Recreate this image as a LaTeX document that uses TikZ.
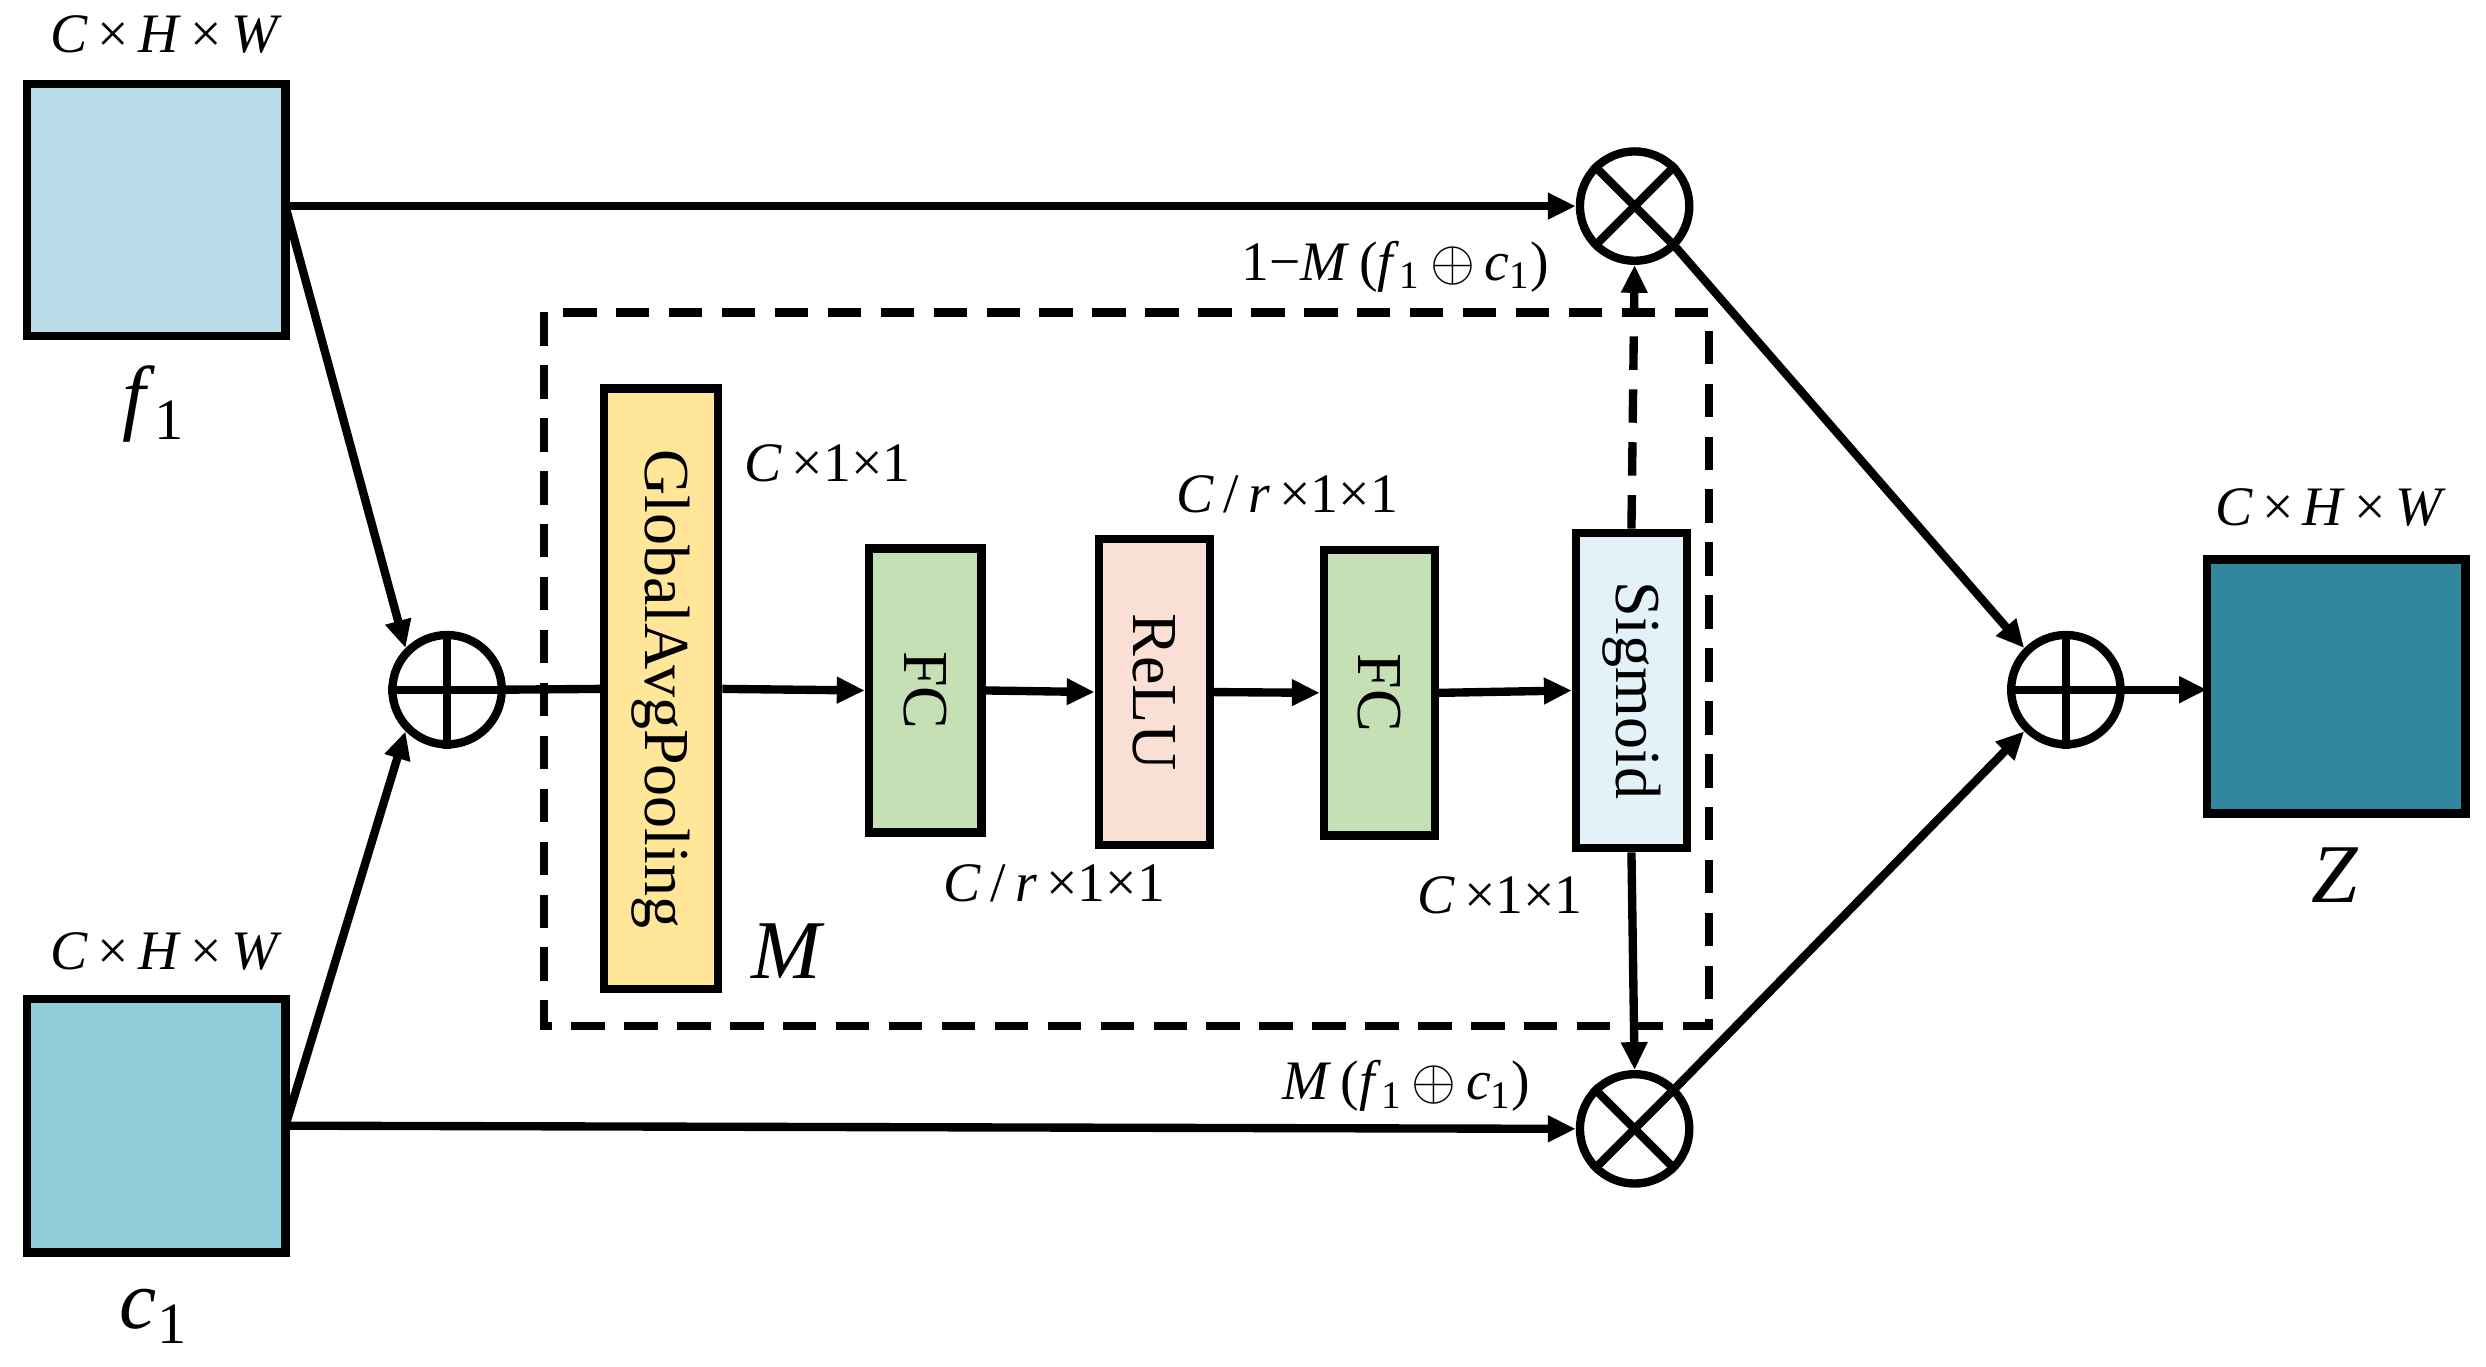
\documentclass[tikz,border=0pt]{standalone}
\usepackage{fontspec}
\setmainfont{Liberation Serif}
\usetikzlibrary{arrows.meta}
\begin{document}
\begin{tikzpicture}[x=0.02cm,y=-0.02cm,
  lw/.style={line width=3pt},
  arr/.style={lw,-{Triangle[length=10pt,width=9pt]}},
  box/.style={draw,lw,inner sep=0},
  circ/.style={draw,lw,circle,minimum size=1.38cm,inner sep=0},
  lab/.style={font=\fontsize{20}{24}\selectfont,inner sep=1pt},
  btxt/.style={font=\fontsize{23}{26}\selectfont,rotate=-90}]
\useasboundingbox (0,0) rectangle (1568,862);
\definecolor{cf}{HTML}{B8DDE8}\definecolor{cc}{HTML}{92CDDB}
\definecolor{cz}{HTML}{31859C}\definecolor{cy}{HTML}{FFE699}
\definecolor{cg}{HTML}{C5E0B4}\definecolor{cp}{HTML}{FAE0D4}
\definecolor{cs}{HTML}{E2F2F8}
\newcommand{\cx}[1]{\draw[lw] (#1.north)--(#1.south) (#1.west)--(#1.east);}
\newcommand{\ox}[1]{\draw[lw] (#1.north west)--(#1.south east) (#1.north east)--(#1.south west);}
% feature boxes
\draw[box,fill=cf] (17,53) rectangle (180,212); \coordinate (f1) at (180,130);
\draw[box,fill=cc] (17,630) rectangle (180,790); \coordinate (c1) at (180,710);
\draw[box,fill=cz] (1392,353) rectangle (1555,513); \coordinate (z) at (1392,435);
\node[lab] (t1) at (105,22) {\textit{C}\,×\,\textit{H}\,×\,\textit{W}};
\node[lab] (t2) at (105,600) {\textit{C}\,×\,\textit{H}\,×\,\textit{W}};
\node[lab] (t3) at (1470,320) {\textit{C}\,×\,\textit{H}\,×\,\textit{W}};
\node[lab,font=\fontsize{30}{34}\selectfont] (lf) at (97,255) {\textit{f}\textsubscript{1}};
\node[lab,font=\fontsize{30}{34}\selectfont] (lc) at (97,830) {\textit{c}\textsubscript{1}};
\node[lab,font=\fontsize{30}{34}\selectfont] (lz) at (1473,552) {\textit{Z}};
% circles
\node[circ] (p1) at (282,435) {}; \cx{p1}
\node[circ] (p2) at (1303,435) {}; \cx{p2}
\node[circ] (o1) at (1031,130) {}; \ox{o1}
\node[circ] (o2) at (1031,712) {}; \ox{o2}
% dashed block
\draw[lw,dashed,dash pattern=on 12pt off 7pt] (343,197) rectangle (1078,647);
\node[box,fill=cy,minimum width=1.44cm,minimum height=7.58cm] (gap) at (417,434.5) {};
\node[btxt] at (gap) {GlobalAvgPooling};
\node[box,fill=cg,minimum width=1.42cm,minimum height=3.58cm] (fc1) at (583.5,435.5) {};
\node[btxt] at (fc1) {FC};
\node[box,fill=cp,minimum width=1.4cm,minimum height=3.86cm] (relu) at (728,436.5) {};
\node[btxt] at (relu) {ReLU};
\node[box,fill=cg,minimum width=1.4cm,minimum height=3.6cm] (fc2) at (870,437) {};
\node[btxt] at (fc2) {FC};
\node[box,fill=cs,minimum width=1.4cm,minimum height=3.98cm] (sig) at (1029,435.5) {};
\node[btxt] at (sig) {Sigmoid};
\node[lab] (a1) at (522,292) {\textit{C}\,×1×1};
\node[lab] (a2) at (812,312) {\textit{C}\,/\,\textit{r}\,×1×1};
\node[lab] (a3) at (665,557) {\textit{C}\,/\,\textit{r}\,×1×1};
\node[lab] (a4) at (946,565) {\textit{C}\,×1×1};
\node[lab,font=\fontsize{30}{34}\selectfont] (lm) at (497,600) {\textit{M}};
\node[lab] (a5) at (880,168) {1−\textit{M}\,(\textit{f}\textsubscript{1}$\,\oplus\,$\textit{c}\textsubscript{1})};
\node[lab] (a6) at (887,685) {\textit{M}\,(\textit{f}\textsubscript{1}$\,\oplus\,$\textit{c}\textsubscript{1})};
% connectors
\draw[arr] (f1) -- (o1.west);
\draw[arr] (f1) -- (p1.north west);
\draw[arr] (c1) -- (p1.south west);
\draw[arr] (c1) -- (o2.west);
\draw[lw] (p1.east) -- (gap.west);
\draw[arr] (gap.east) -- (fc1.west);
\draw[arr] (fc1.east) -- (relu.west);
\draw[arr] (relu.east) -- (fc2.west);
\draw[arr] (fc2.east) -- (sig.west);
\draw[arr,dashed,dash pattern=on 12pt off 7pt] (sig.north) -- (o1.south);
\draw[arr] (sig.south) -- (o2.north);
\draw[arr] (o1.south east) -- (p2.north west);
\draw[arr] (o2.north east) -- (p2.south west);
\draw[arr] (p2.east) -- (z);
\end{tikzpicture}
\end{document}
